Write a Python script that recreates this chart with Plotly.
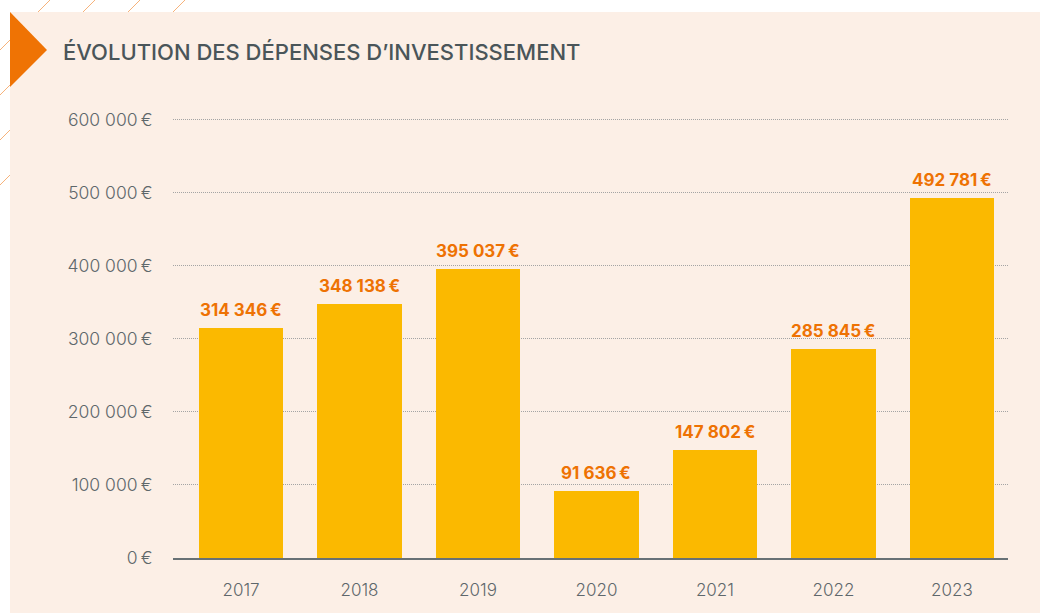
import plotly.graph_objects as go

# Investment spending per year (EUR)
years = ["2017", "2018", "2019", "2020", "2021", "2022", "2023"]
spending = [314346, 348138, 395037, 91636, 147802, 285845, 492781]
y_ticks = [0, 100000, 200000, 300000, 400000, 500000, 600000]

W, H = 1040, 613
M_L, M_R, M_T, M_B = 173, 32, 116, 55
PLOT_W = W - M_L - M_R
PLOT_H = H - M_T - M_B

BAR = "#FBB900"
ORANGE = "#EE7203"
PEACH = "#FCEFE6"
GREY_TXT = "#5E676B"
TITLE_TXT = "#4A5559"


def px_x(x):
    """Pixel x of the page -> paper coordinate."""
    return (x - M_L) / PLOT_W


def px_y(y):
    """Pixel y of the page (from top) -> paper coordinate."""
    return (H - M_B - y) / PLOT_H


def fmt(v):
    return f"{v:,}".replace(",", " ") + "\u202f€"


fig = go.Figure(
    go.Bar(
        x=list(range(len(years))),
        y=spending,
        marker=dict(color=BAR, line=dict(width=0)),
        width=0.71,
        hoverinfo="skip",
    )
)

shapes = []
# thin diagonal hatch strokes in the white border
for c in [50, 95, 140, 185]:
    shapes.append(dict(type="line", xref="paper", yref="paper",
                       x0=px_x(0), y0=px_y(c), x1=px_x(c), y1=px_y(0),
                       line=dict(color="#F6B27A", width=1), layer="below"))
# peach panel
shapes.append(dict(type="rect", xref="paper", yref="paper",
                   x0=px_x(10), y0=px_y(12), x1=px_x(W + 5), y1=px_y(H + 5),
                   fillcolor=PEACH, line=dict(width=0), layer="below"))
# orange marker triangle
shapes.append(dict(type="path", xref="paper", yref="paper",
                   path=f"M {px_x(10)} {px_y(12)} L {px_x(47)} {px_y(50)} L {px_x(10)} {px_y(87)} Z",
                   fillcolor="#EF7304", line=dict(width=0), layer="below"))

annotations = [
    dict(text="ÉVOLUTION DES DÉPENSES D’INVESTISSEMENT",
         xref="paper", yref="paper", x=px_x(61), y=px_y(52),
         xanchor="left", yanchor="middle", showarrow=False,
         font=dict(family="Inter", size=22, color=TITLE_TXT, weight=500)),
]
for i, v in enumerate(spending):
    annotations.append(dict(text=fmt(v), x=i, y=v, xref="x", yref="y",
                            xanchor="center", yanchor="bottom", yshift=6,
                            showarrow=False,
                            font=dict(family="Inter", size=17, color=ORANGE, weight=700)))

fig.update_layout(
    width=W, height=H,
    margin=dict(l=M_L, r=M_R, t=M_T, b=M_B, pad=0),
    paper_bgcolor="white",
    plot_bgcolor="rgba(0,0,0,0)",
    showlegend=False,
    bargap=0,
    shapes=shapes,
    annotations=annotations,
    xaxis=dict(
        range=[-0.574, 6.473],
        tickmode="array", tickvals=list(range(len(years))), ticktext=years,
        showgrid=False, zeroline=False,
        showline=True, linecolor="#687175", linewidth=1.5,
        ticks="outside", ticklen=0, ticklabelstandoff=16,
        tickfont=dict(family="Inter", size=17, color=GREY_TXT, weight=300),
        fixedrange=True,
    ),
    yaxis=dict(
        range=[0, 605000],
        tickmode="array", tickvals=y_ticks, ticktext=[fmt(v) for v in y_ticks],
        showgrid=True, gridcolor="#A4A4A4", gridwidth=1, griddash="1px,1px",
        zeroline=False, showline=False,
        ticks="outside", ticklen=0, ticklabelstandoff=16,
        tickfont=dict(family="Inter", size=17.5, color=GREY_TXT, weight=300),
        fixedrange=True,
    ),
)

fig.write_html("out.html")
